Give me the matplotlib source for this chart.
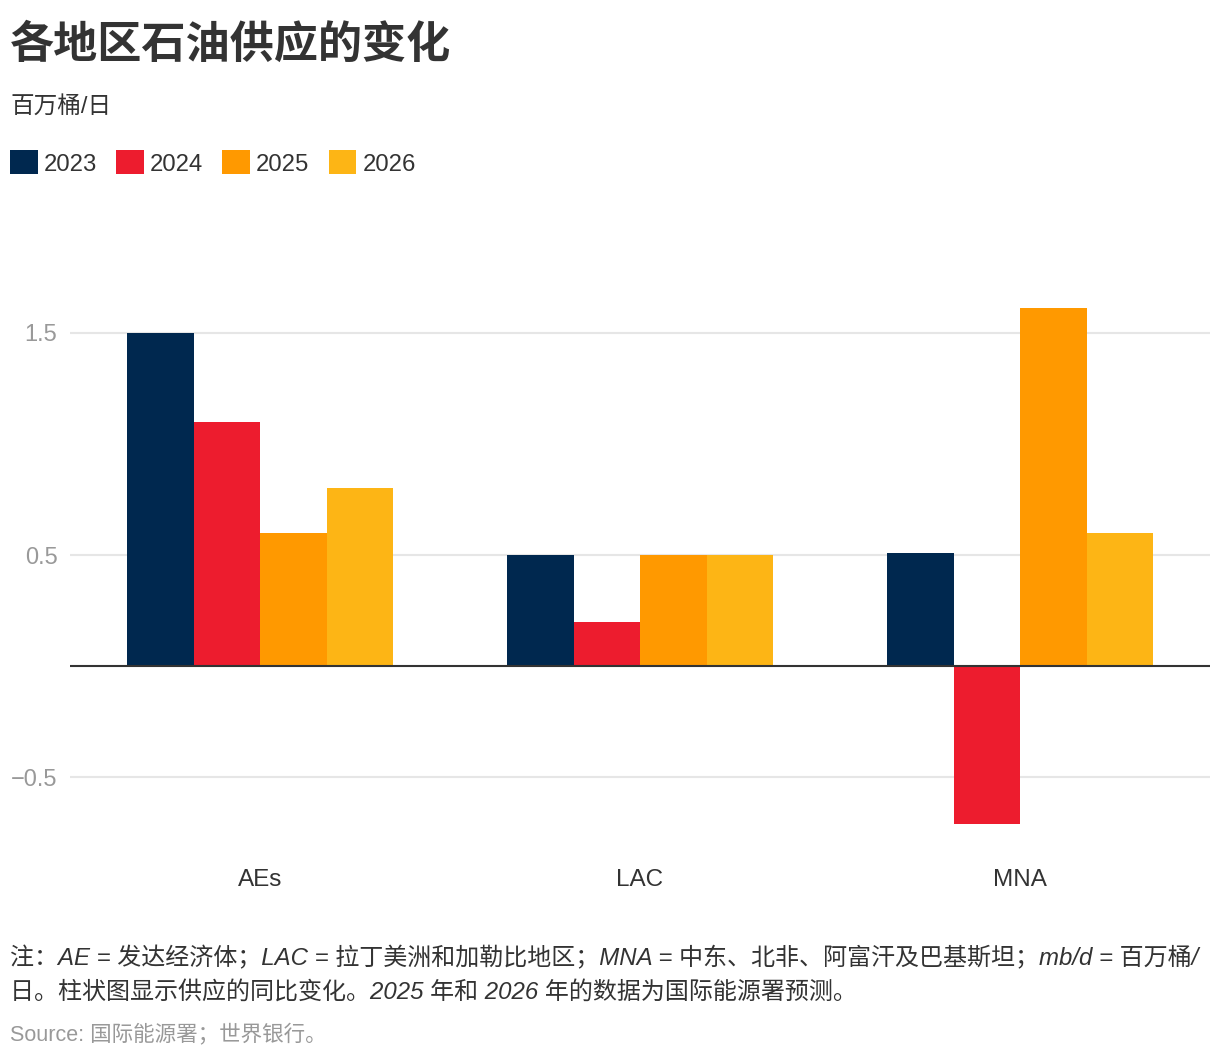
import matplotlib.pyplot as plt
import numpy as np

# данные
regions = ["AEs", "LAC", "MNA"]
years = ["2023", "2024", "2025", "2026"]
v2023 = [1.5, 0.5, 0.51]
v2024 = [1.1, 0.2, -0.71]
v2025 = [0.6, 0.5, 1.61]
v2026 = [0.8, 0.5, 0.6]
colors = ["#00284f", "#ed1c2e", "#ff9900", "#fdb515"]
yticks = [-0.5, 0.5, 1.5]

plt.rcParams['font.family'] = ['Liberation Sans', 'Noto Sans CJK SC', 'DejaVu Sans']

fig = plt.figure(figsize=(12.2, 10.58), dpi=100)
W, H = 1220, 1058
ax = fig.add_axes([70 / W, 1 - 855 / H, 1140 / W, (855 - 244) / H])

x = np.arange(len(regions))
bw = 0.175
series = [v2023, v2024, v2025, v2026]
handles = []
for i, vals in enumerate(series):
    b = ax.bar(x + (i - 1.5) * bw, vals, bw, color=colors[i], label=years[i], zorder=3)
    handles.append(b)

ax.set_xlim(-0.5, 2.5)
ax.set_ylim(-0.85, 1.9)
ax.set_yticks(yticks)
ax.set_yticklabels(["\u22120.5", "0.5", "1.5"])
ax.set_xticks(x)
ax.set_xticklabels(regions)
ax.grid(axis='y', color='#e6e6e6', linewidth=1.5, zorder=0)
ax.axhline(0, color='#333333', linewidth=1.5, zorder=4)
for s in ax.spines.values():
    s.set_visible(False)
ax.tick_params(axis='y', length=0, labelsize=17, labelcolor='#999999', pad=9)
ax.tick_params(axis='x', length=0, labelsize=17.5, labelcolor='#333333', pad=10)

# заголовки
fig.text(10 / W, 1 - 46 / H, "各地区石油供应的变化", fontsize=31.8, fontweight='bold',
         color='#333333', va='center', ha='left')
fig.text(10 / W, 1 - 107 / H, "百万桶/日", fontsize=17, color='#333333', va='center', ha='left')

fig.legend(handles=handles, loc='center left', bbox_to_anchor=(0 / W, 1 - 163 / H), ncol=4,
           frameon=False, fontsize=17.2, handlelength=1.17, handleheight=1.17,
           handletextpad=0.25, columnspacing=0.8, borderaxespad=0, labelcolor='#333333')

note = ("注：AE = 发达经济体；LAC = 拉丁美洲和加勒比地区；MNA = 中东、北非、阿富汗及巴基斯坦；mb/d = 百万桶/\n"
        "日。柱状图显示供应的同比变化。2025 年和 2026 年的数据为国际能源署预测。")
fig.text(10 / W, 1 - 946 / H, note, fontsize=17.3, style='italic', color='#333333',
         va='top', ha='left', linespacing=1.55)
fig.text(10 / W, 1 - 1035 / H, "Source: 国际能源署；世界银行。", fontsize=15.5, color='#999999',
         va='center', ha='left')

fig.savefig("out.png", dpi=100)
